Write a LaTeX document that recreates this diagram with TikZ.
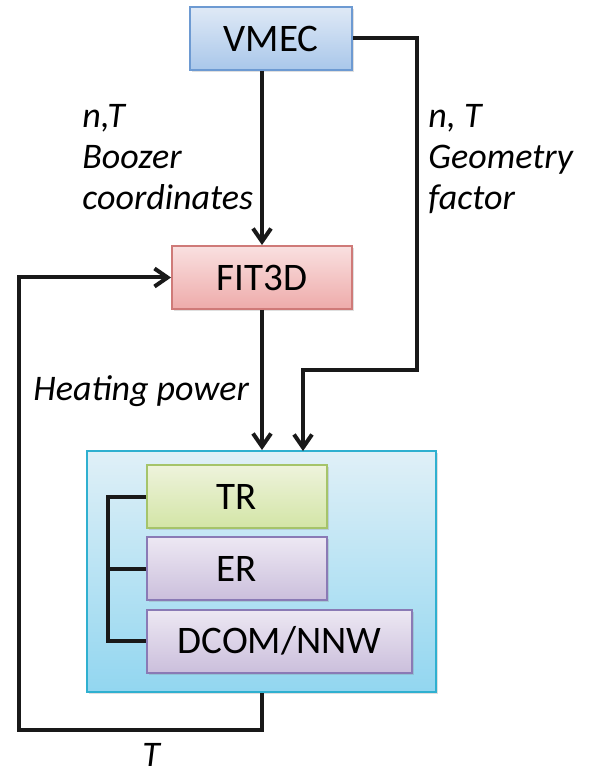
\documentclass[tikz,border=0pt]{standalone}
\usepackage{fontspec}
\setmainfont{Carlito}
\usetikzlibrary{arrows.meta,positioning,shadows}
\definecolor{vmectop}{HTML}{DFE9F6}
\definecolor{vmecbot}{HTML}{A9C7EA}
\definecolor{vmecline}{HTML}{6D9AD2}
\definecolor{fittop}{HTML}{F9E0E0}
\definecolor{fitbot}{HTML}{EEABAA}
\definecolor{fitline}{HTML}{CF7A78}
\definecolor{simtop}{HTML}{E0F0F7}
\definecolor{simbot}{HTML}{92D6F0}
\definecolor{simline}{HTML}{2FB0D0}
\definecolor{trtop}{HTML}{EEF3DC}
\definecolor{trbot}{HTML}{D3E5A6}
\definecolor{trline}{HTML}{A5C46A}
\definecolor{ertop}{HTML}{EDE8F3}
\definecolor{erbot}{HTML}{CBBFDC}
\definecolor{erline}{HTML}{8A7AB5}

\begin{document}
\begin{tikzpicture}[
  x=0.5pt, y=-0.5pt,
  box/.style={line width=1pt, minimum height=31.5pt, inner sep=0pt,
              font=\fontsize{19.5}{23}\selectfont,
              drop shadow={opacity=0.25, shadow xshift=1.2pt, shadow yshift=-1.2pt}},
  lab/.style={font=\fontsize{18}{20.5}\selectfont\itshape, align=left, inner sep=0pt},
  arr/.style={-{Straight Barb[length=6.5pt, width=9pt, line width=2pt]}, line width=2pt, black!90},
  wire/.style={line width=2pt, black!90}
]
\useasboundingbox (0,0) rectangle (600,774);

% main blocks
\node[box, minimum width=81pt, top color=vmectop, bottom color=vmecbot, draw=vmecline]
  (vmec) at (271,38.5) {VMEC};
\node[box, minimum width=90pt, top color=fittop, bottom color=fitbot, draw=fitline]
  (fit) at (262,277.5) {FIT3D};
\node[box, minimum width=174.5pt, minimum height=120.5pt, top color=simtop, bottom color=simbot, draw=simline]
  (sim) at (261.5,571.5) {};

% transport models
\node[box, minimum width=90pt, top color=trtop, bottom color=trbot, draw=trline]
  (tr) at (237,496.5) {TR};
\node[box, minimum width=90pt, top color=ertop, bottom color=erbot, draw=erline]
  (er) at (237,568.5) {ER};
\node[box, minimum width=132.5pt, top color=ertop, bottom color=erbot, draw=erline]
  (dcom) at (279.5,641) {DCOM/NNW};

% bends of the connectors
\coordinate (rbend) at (417,370);
\coordinate (rin) at (303,451);
\coordinate (fb) at (19,730);

\draw[arr] (fit.north |- vmec.south) -- (fit.north);
\draw[arr] (vmec.east) -| (rbend) -| (rin);
\draw[arr] (fit.south) -- (fit.south |- sim.north);
\draw[arr] (sim.south) |- (fb) |- (fit.west);
\draw[wire] (tr.west) -- ++(-38,0) |- (dcom.west);
\draw[wire] (er.west) -- ++(-38,0);

% labels
\node[lab, anchor=north west] (booz) at (82,104) {n,T\\Boozer\\coordinates};
\node[lab, anchor=north west] (geom) at (428,104) {n, T\\Geometry\\factor};
\node[lab, anchor=base west] (heat) at (33,400) {Heating power};
\node[lab, anchor=base west] (temp) at (142,766) {T};
\end{tikzpicture}
\end{document}
